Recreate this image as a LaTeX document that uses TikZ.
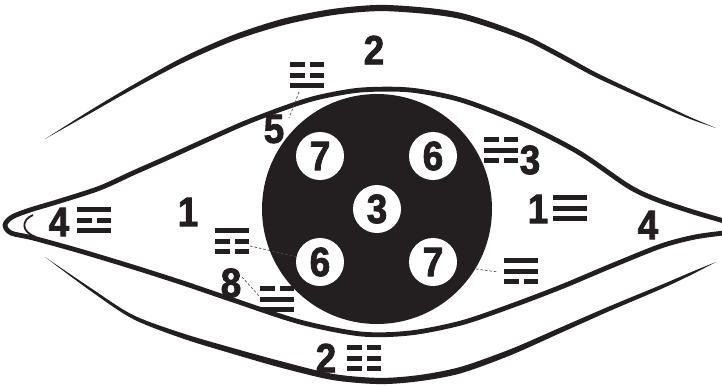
\documentclass[tikz,border=0pt]{standalone}
\usepackage{fontspec}
\setmainfont{Liberation Sans}
\newfontfamily\heavyfont{Liberation Sans Bold}[FakeStretch=0.9, FakeBold=2]
\definecolor{ink}{RGB}{35,31,32}
\newcommand{\trbar}[2]{%
  \ifnum#1=1
    \fill[ink] (0,#2*10.5) rectangle ++(34,5.3);
  \else
    \fill[ink] (0,#2*10.5) rectangle ++(14.5,5.3);
    \fill[ink] (19.5,#2*10.5) rectangle ++(14.5,5.3);
  \fi}
\tikzset{
  pics/trigram/.style n args={3}{code={
     \trbar{#1}{0}\trbar{#2}{1}\trbar{#3}{2}
     \coordinate (-c) at (17,13);
  }},
  lab/.style={font=\fontsize{41}{41}\selectfont\heavyfont, text=ink, inner sep=0pt},
  wc/.style={circle, fill=white, minimum size=48pt, inner sep=0pt,
             font=\fontsize{41}{41}\selectfont\heavyfont, text=ink},
  disc/.style={circle, fill=ink, minimum size=230pt, inner sep=0pt},
  leader/.style={draw=ink!80, line width=0.7pt, dash pattern=on 2.5pt off 2pt},
  lid/.style={draw=ink, line width=4.8pt, line join=round},
}
\begin{document}
\begin{tikzpicture}[x=1pt,y=-1pt]
\useasboundingbox (0,0) rectangle (722,386);
% outer upper tapered curve
\fill[ink] plot[smooth] coordinates {(45,139) (90,110.5) (133,84.9) (183,57.25) (233,35) (283,18.75) (333,8.9) (380,4.9) (428,7.9) (461,12.9) (494,23) (528,36.25) (561,53.25) (594,71.5) (628,87.9) (661,103.3) (690,117) (716,128)}
  -- plot[smooth] coordinates {(716,128) (690,119) (661,106.7) (628,92.1) (594,76.5) (561,58.75) (528,41.75) (494,29) (461,19.1) (428,14.1) (380,11.1) (333,15.1) (283,25.25) (233,41) (183,62.75) (133,89.1) (90,113.5) (45,139)} -- cycle;
% outer lower tapered curve
\fill[ink] plot[smooth] coordinates {(45,257) (90,287.5) (133,315) (183,333.4) (233,348.05) (283,361.75) (333,373.9) (380,377.9) (420,374.9) (461,366.75) (511,348.95) (561,327.25) (611,305.6) (661,284.95) (690,272.6) (716,262)}
  -- plot[smooth] coordinates {(716,262) (690,275.4) (661,289.05) (611,310.4) (561,332.75) (511,355.05) (461,373.25) (420,381.1) (380,384.1) (333,380.1) (283,368.25) (233,353.95) (183,338.6) (133,319) (90,290.5) (45,257)} -- cycle;
% inner eye
\draw[lid] plot[smooth] coordinates {(724,221) (690,211) (655,199) (628,186) (578,152) (521,123) (461,100) (410,90) (361,90) (320,97) (290,106) (245,123) (200,143) (167,158) (133,173) (100,188) (60,201) (30,210) (12,217) (5,225) (11,233) (33,238) (80,251) (133,267) (183,283) (233,300) (300,322) (361,334) (410,333) (461,323) (511,306) (561,287) (611,266) (661,246) (695,237) (724,233)};
\draw[ink, line width=1.8pt] (33,215) .. controls (21,220) and (21,232) .. (36,237);
% pupil
\node[disc] (disc) at (377,209) {};
\node[wc] (c7a) at (320,156) {7};
\node[wc] (c6a) at (433,156) {6};
\node[wc] (c3) at (377,209) {3};
\node[wc] (c6b) at (320,262) {6};
\node[wc] (c7b) at (433,262) {7};
% labels
\node[lab] (top2) at (374,50) {2};
\node[lab] (l5) at (274,129) {5};
\node[lab] (l3) at (530,160) {3};
\node[lab] (r1) at (538,209) {1};
\node[lab] (r4) at (648,225) {4};
\node[lab] (l1) at (188,212) {1};
\node[lab] (l4) at (59,222) {4};
\node[lab] (l8) at (231,283) {8};
\node[lab] (b2) at (326,358) {2};
% trigrams
\pic (T5) at (290,62) {trigram={0}{0}{1}};
\pic (T3) at (484,137) {trigram={0}{1}{0}};
\pic (T1) at (553,195) {trigram={1}{1}{1}};
\pic (T6) at (215,228) {trigram={1}{0}{0}};
\pic (T8) at (260,286) {trigram={0}{1}{1}};
\pic (T7) at (504,258) {trigram={1}{1}{0}};
\pic (T4) at (77,207) {trigram={1}{0}{1}};
\pic (T2) at (347,345) {trigram={0}{0}{0}};
% leaders
\coordinate (p5a) at (299,92);
\coordinate (p5b) at (289,118);
\draw[leader] (p5a) -- (p5b);
\coordinate (p6) at (250,246);
\draw[leader] (p6) -- (c6b);
\coordinate (p8a) at (242,277);
\coordinate (p8b) at (260,297);
\draw[leader] (p8a) -- (p8b);
\coordinate (p7a) at (476,269);
\coordinate (p7b) at (498,272);
\draw[leader] (p7a) -- (p7b);
\end{tikzpicture}
\end{document}
